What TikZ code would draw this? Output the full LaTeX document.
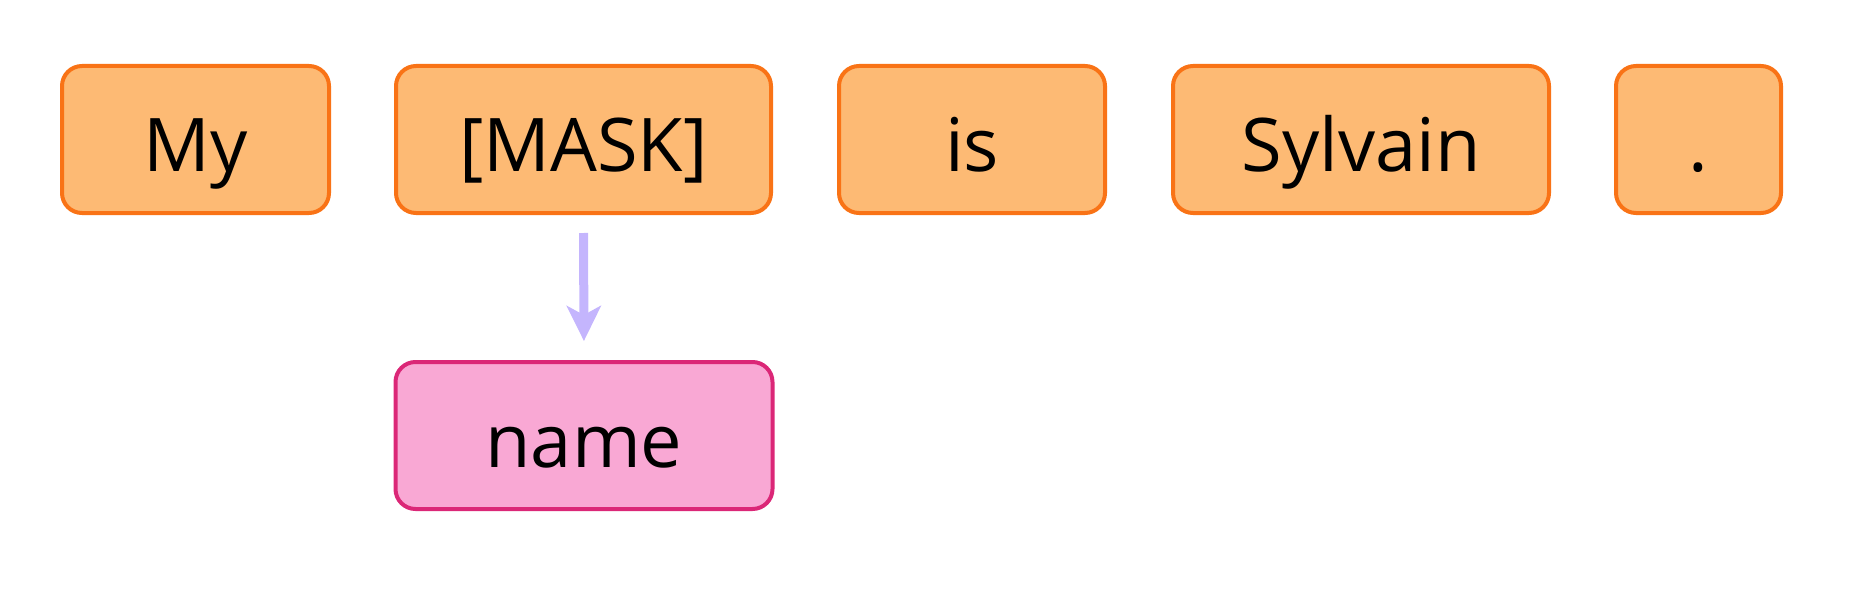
\documentclass[tikz,border=0pt]{standalone}
\usepackage{fontspec}
\setmainfont{Open Sans}
\usetikzlibrary{arrows.meta}
\definecolor{tokfill}{HTML}{FDBA74}
\definecolor{tokdraw}{HTML}{F97316}
\definecolor{predfill}{HTML}{F9A8D4}
\definecolor{preddraw}{HTML}{DB2777}
\definecolor{arrowcol}{HTML}{C4B5FD}
\begin{document}
\begin{tikzpicture}[x=0.5pt,y=-0.5pt,
  tok/.style={draw=tokdraw, fill=tokfill, line width=2pt, rounded corners=10pt,
    minimum height=73.5pt, inner sep=0pt, text height=31.5pt, text depth=0pt,
    font=\fontsize{37}{44}\selectfont},
  pred/.style={tok, draw=preddraw, fill=predfill},
  flow/.style={draw=arrowcol, line width=4.5pt, -{Stealth[length=17.5pt,width=17pt,inset=4.5pt]}}]
\useasboundingbox (0,0) rectangle (1851,610);
\node[tok, minimum width=133.5pt] (my) at (195.5,139.5) {My};
\node[tok, minimum width=187.5pt] (mask) at (583.5,139.5) {[MASK]};
\node[tok, minimum width=133pt] (is) at (972,139.5) {is};
\node[tok, minimum width=188pt] (syl) at (1361,139.5) {Sylvain};
\node[tok, minimum width=82.5pt] (dot) at (1698.5,139.5) {.};
\node[pred, minimum width=188.5pt] (name) at (584,435.5) {name};
\draw[flow, shorten <=9pt, shorten >=9.5pt] (mask.south) -- (name.north);
\end{tikzpicture}
\end{document}
